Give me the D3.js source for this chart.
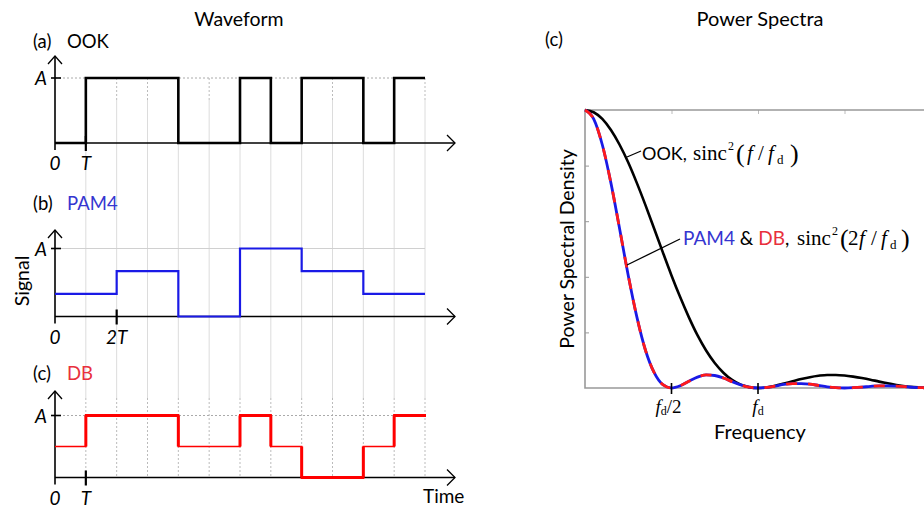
<!DOCTYPE html>
<html>
<head>
  <meta content="text/html;charset=utf-8" http-equiv="Content-Type">
  <title>Waveform and power spectra</title>
  <style type="text/css">
    body { margin: 0; background: #fff; }
    svg text { font-family: Lato, "Noto Sans", sans-serif; fill: #000; }
    .serif { font-family: "Liberation Serif", "DejaVu Serif", serif; }
  </style>
  <script src="https://cdnjs.cloudflare.com/ajax/libs/d3/7.6.1/d3.min.js"></script>
  <script>

    // waveforms, one value per bit period T
    var ookBits   = [0, 1, 1, 1, 0, 0, 1, 0, 1, 1, 0, 1];
    var pam4Syms  = [1, 2, 0, 3, 2, 1];              // one value per 2T, levels 0..3
    var dbLevels  = [1, 2, 2, 2, 1, 1, 2, 1, 0, 0, 1, 2]; // levels 0..2

    // power spectra, frequency in units of f_d
    var freq = [0, 0.05, 0.1, 0.15, 0.2, 0.25, 0.3, 0.35, 0.4, 0.45, 0.5, 0.55, 0.6, 0.65, 0.7,
                0.75, 0.8, 0.85, 0.9, 0.95, 1, 1.05, 1.1, 1.15, 1.2, 1.25, 1.3, 1.35, 1.4, 1.45,
                1.5, 1.55, 1.6, 1.65, 1.7, 1.75, 1.8, 1.85, 1.9, 1.95, 2];
    var ookPsd = [1, 0.992, 0.968, 0.928, 0.875, 0.811, 0.737, 0.657, 0.573, 0.488, 0.405,
                  0.327, 0.255, 0.190, 0.135, 0.090, 0.055, 0.029, 0.012, 0.003, 0,
                  0.002, 0.008, 0.016, 0.024, 0.032, 0.039, 0.044, 0.047, 0.047, 0.045,
                  0.041, 0.036, 0.030, 0.023, 0.017, 0.011, 0.006, 0.003, 0.001, 0];
    var pam4DbPsd = [1, 0.968, 0.875, 0.737, 0.573, 0.405, 0.255, 0.135, 0.055, 0.012, 0,
                     0.008, 0.024, 0.039, 0.047, 0.045, 0.036, 0.023, 0.011, 0.003, 0,
                     0.002, 0.007, 0.013, 0.016, 0.016, 0.014, 0.009, 0.004, 0.001, 0,
                     0.001, 0.003, 0.006, 0.008, 0.008, 0.007, 0.005, 0.002, 0.001, 0];

    var timeTicks = [0, 1, 2, 3, 4, 5, 6, 7, 8, 9, 10, 11, 12];
    var freqTicks = [0.5, 1];
    var freqTickLabels = ['/2', ''];

    function main() {
      var svg = d3.select('#chart').attr('width', 924).attr('height', 508);

      // ---------- left: waveforms ----------
      var x = d3.scaleLinear().domain([0, 12]).range([55, 425]);
      var panels = [
        {tag: '(a)', name: 'OOK',  color: '#000', base: 143,   top: 78,    tip: 56,  nameColor: '#000',    tick: 1, tickLbl: 'T'},
        {tag: '(b)', name: 'PAM4', color: '#1a1ae6', base: 316.5, top: 248.5, tip: 230, nameColor: '#3535d0', tick: 2, tickLbl: '2T'},
        {tag: '(c)', name: 'DB',   color: '#ff0000', base: 477.5, top: 415.5, tip: 391, nameColor: '#e8303c', tick: 1, tickLbl: 'T'}
      ];

      var grid = svg.append('g');
      timeTicks.slice(1).forEach(function(t) {
        grid.append('line').attr('x1', x(t)).attr('x2', x(t)).attr('y1', 100).attr('y2', 398)
          .attr('stroke', '#dcdcdc').attr('stroke-width', 1);
        grid.append('line').attr('x1', x(t)).attr('x2', x(t)).attr('y1', 78).attr('y2', 100)
          .attr('stroke', '#bbb').attr('stroke-dasharray', '2,2');
        grid.append('line').attr('x1', x(t)).attr('x2', x(t)).attr('y1', 398).attr('y2', 477)
          .attr('stroke', '#bbb').attr('stroke-dasharray', '2,2');
      });

      svg.append('text').attr('x', 239).attr('y', 26).attr('text-anchor', 'middle')
        .style('font-size', '19.5px').text('Waveform');
      svg.append('text').attr('transform', 'translate(29,281) rotate(-90)').attr('text-anchor', 'middle')
        .style('font-size', '19.5px').text('Signal');

      panels.forEach(function(p, k) {
        var g = svg.append('g');
        var maxLvl = k === 0 ? 1 : (k === 1 ? 3 : 2);
        var y = d3.scaleLinear().domain([0, maxLvl]).range([p.base, p.top]);

        // A reference line
        g.append('line').attr('x1', x(0)).attr('x2', x(12)).attr('y1', p.top).attr('y2', p.top)
          .attr('stroke', k === 1 ? '#d0d0d0' : '#aaa').attr('stroke-dasharray', k === 1 ? null : '2,2');

        // axes with open arrow heads
        g.append('line').attr('x1', x(0)).attr('x2', 455).attr('y1', p.base).attr('y2', p.base)
          .attr('stroke', '#000').attr('stroke-width', 1.6);
        g.append('path').attr('d', 'M447,' + (p.base - 8) + 'L455,' + p.base + 'L447,' + (p.base + 8))
          .attr('fill', 'none').attr('stroke', '#000').attr('stroke-width', 1.3);
        g.append('line').attr('x1', x(0)).attr('x2', x(0)).attr('y1', p.base + 7).attr('y2', p.tip)
          .attr('stroke', '#000').attr('stroke-width', 1.6);
        g.append('path').attr('d', 'M' + (x(0) - 7) + ',' + (p.tip + 8) + 'L' + x(0) + ',' + p.tip + 'L' + (x(0) + 7) + ',' + (p.tip + 8))
          .attr('fill', 'none').attr('stroke', '#000').attr('stroke-width', 1.3);
        g.append('line').attr('x1', x(0) - 4).attr('x2', x(0) + 6).attr('y1', p.top).attr('y2', p.top)
          .attr('stroke', '#000').attr('stroke-width', 1.6);
        g.append('line').attr('x1', x(p.tick)).attr('x2', x(p.tick)).attr('y1', p.base - 7).attr('y2', p.base + 8)
          .attr('stroke', '#000').attr('stroke-width', 2.2);

        // labels
        g.append('text').attr('x', 47).attr('y', p.top + 7).attr('text-anchor', 'end')
          .style('font-size', '19px').style('font-style', 'italic').text('A');
        g.append('text').attr('x', x(0)).attr('y', p.base + 27).attr('text-anchor', 'middle')
          .style('font-size', '19px').style('font-style', 'italic').text('0');
        g.append('text').attr('x', x(p.tick)).attr('y', p.base + 27).attr('text-anchor', 'middle')
          .style('font-size', '19px').style('font-style', 'italic').text(p.tickLbl);
        g.append('text').attr('x', 33).attr('y', [48, 210, 380][k]).style('font-size', '18.5px').text(p.tag);
        g.append('text').attr('x', 67).attr('y', [48, 210, 380][k]).style('font-size', '18.5px')
          .style('fill', p.nameColor).text(p.name);

        // signal
        var vals, dur;
        if (k === 0) { vals = ookBits; dur = 1; }
        else if (k === 1) { vals = pam4Syms; dur = 2; }
        else { vals = dbLevels; dur = 1; }
        var pts = vals.map(function(v, i) { return [i * dur, v]; });
        pts.push([vals.length * dur, vals[vals.length - 1]]);
        var line = d3.line().x(function(d) { return x(d[0]); }).y(function(d) { return y(d[1]); })
          .curve(d3.curveStepAfter);
        g.append('path').datum(pts).attr('d', line).attr('fill', 'none')
          .attr('stroke', p.color).attr('stroke-width', k === 0 ? 2.6 : (k === 1 ? 2.2 : 1.6));

        if (k === 2) {
          // full-scale levels drawn heavier
          vals.forEach(function(v, i) {
            if (v !== 1) {
              g.append('line').attr('x1', x(i) - 1).attr('x2', x(i + 1) + 1).attr('y1', y(v)).attr('y2', y(v))
                .attr('stroke', p.color).attr('stroke-width', 3.2);
            }
            if (i > 0 && vals[i - 1] !== v) {
              g.append('line').attr('x1', x(i)).attr('x2', x(i)).attr('y1', y(vals[i - 1])).attr('y2', y(v))
                .attr('stroke', p.color).attr('stroke-width', 3);
            }
          });
        }
      });

      svg.append('text').attr('x', 423).attr('y', 503).style('font-size', '19px').text('Time');

      // ---------- right: power spectra ----------
      var fx = d3.scaleLinear().domain([0, 2]).range([585, 931]);
      var fy = d3.scaleLinear().domain([0, 1]).range([388, 110]);

      svg.append('text').attr('x', 760).attr('y', 26).attr('text-anchor', 'middle')
        .style('font-size', '20px').text('Power Spectra');
      svg.append('text').attr('x', 545).attr('y', 46).style('font-size', '18.5px').text('(c)');
      svg.append('text').attr('transform', 'translate(574,249) rotate(-90)').attr('text-anchor', 'middle')
        .style('font-size', '19.5px').text('Power Spectral Density');

      var ax = svg.append('g').attr('transform', 'translate(585,0)')
        .call(d3.axisLeft(fy).tickValues([0.2, 0.4, 0.6, 0.8]).tickSize(-4).tickFormat(''));
      ax.select('.domain').remove();
      ax.selectAll('line').attr('stroke', '#999');
      var topAx = svg.append('g').attr('transform', 'translate(0,110)')
        .call(d3.axisBottom(fx).tickValues([0.5, 1, 1.5]).tickSize(4).tickFormat(''));
      topAx.select('.domain').remove();
      topAx.selectAll('line').attr('stroke', '#bbb');

      svg.append('path').attr('d', 'M924,110H585V388H924').attr('fill', 'none')
        .attr('stroke', '#999').attr('stroke-width', 1.6);

      var psdLine = d3.line().x(function(d, i) { return fx(freq[i]); }).y(function(d) { return fy(d); })
        .curve(d3.curveMonotoneX);
      svg.append('path').datum(ookPsd).attr('d', psdLine).attr('fill', 'none')
        .attr('stroke', '#000').attr('stroke-width', 2.6);
      svg.append('path').datum(pam4DbPsd).attr('d', psdLine).attr('fill', 'none')
        .attr('stroke', '#1a1ae6').attr('stroke-width', 2.8);
      svg.append('path').datum(pam4DbPsd).attr('d', psdLine).attr('fill', 'none')
        .attr('stroke', '#ff1a1a').attr('stroke-width', 2.8).attr('stroke-dasharray', '11,11');

      // frequency ticks and labels
      freqTicks.forEach(function(f, i) {
        svg.append('line').attr('x1', fx(f)).attr('x2', fx(f)).attr('y1', 383).attr('y2', 394)
          .attr('stroke', '#000').attr('stroke-width', 1.6);
        var t = svg.append('text').attr('class', 'serif').attr('x', fx(f) - (i === 0 ? 3 : 0)).attr('y', 413)
          .attr('text-anchor', 'middle').style('font-size', '19px');
        t.append('tspan').style('font-style', 'italic').text('f');
        t.append('tspan').attr('dy', 2).style('font-size', '12px').text('d');
        t.append('tspan').attr('dy', -2).text(freqTickLabels[i]);
      });
      svg.append('text').attr('x', 760).attr('y', 439).attr('text-anchor', 'middle')
        .style('font-size', '20px').text('Frequency');

      // annotations
      svg.append('line').attr('x1', 627).attr('y1', 157).attr('x2', 641).attr('y2', 151)
        .attr('stroke', '#000').attr('stroke-width', 1.3);
      svg.append('line').attr('x1', 627).attr('y1', 265).attr('x2', 680).attr('y2', 239)
        .attr('stroke', '#000').attr('stroke-width', 1.3);

      // serif formula pieces placed along the baseline
      function formula(x0, y0, parts) {
        var t = svg.append('text').attr('class', 'serif').attr('y', y0);
        parts.forEach(function(q) {
          t.append('tspan').attr('x', x0 + q[0]).attr('y', y0 + (q[3] || 0))
            .style('font-size', q[2] + 'px').style('font-style', q[4] ? 'italic' : 'normal').text(q[1]);
        });
      }

      svg.append('text').attr('x', 642).attr('y', 160).style('font-size', '18px').text('OOK,');
      formula(693, 160, [[0, 'sinc', 21], [35, '2', 12, -10], [43, '(', 26, 2], [54, 'f', 21, 0, 1],
                         [65, '/', 21], [75, 'f', 21, 0, 1], [84, 'd', 13, 4], [97, ')', 26, 2]]);

      var t2 = svg.append('text').attr('x', 683).attr('y', 245).style('font-size', '19px');
      t2.append('tspan').style('fill', '#3535d0').text('PAM4');
      t2.append('tspan').text(' & ');
      t2.append('tspan').style('fill', '#e8303c').text('DB');
      t2.append('tspan').text(',');
      formula(797, 245, [[0, 'sinc', 21], [35, '2', 12, -10], [43, '(', 26, 2], [51, '2', 21],
                         [62, 'f', 21, 0, 1], [74, '/', 21], [84, 'f', 21, 0, 1], [93, 'd', 13, 4], [104, ')', 26, 2]]);
    }

  </script>
</head>
<body onload='main()'>
  <svg id="chart"></svg>
</body>
</html>
